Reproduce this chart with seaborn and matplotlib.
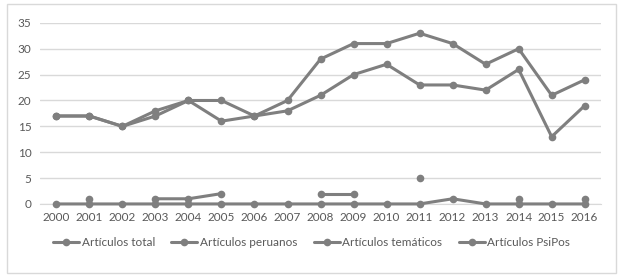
import numpy as np
import pandas as pd
import matplotlib.pyplot as plt
import seaborn as sns
from matplotlib.lines import Line2D
from matplotlib.patches import Rectangle

years = [str(y) for y in range(2000, 2017)]
total = [17, 17, 15, 18, 20, 20, 17, 20, 28, 31, 31, 33, 31, 27, 30, 21, 24]
peruanos = [17, 17, 15, 17, 20, 16, 17, 18, 21, 25, 27, 23, 23, 22, 26, 13, 19]
tematicos = [np.nan, 1, np.nan, 1, 1, 2, np.nan, np.nan, 2, 2, np.nan, 5, np.nan, np.nan, 1, np.nan, 1]
psipos = [0, 0, 0, 0, 0, 0, 0, 0, 0, 0, 0, 0, 1, 0, 0, 0, 0]

labels = ["Artículos total", "Artículos peruanos", "Artículos temáticos", "Artículos PsiPos"]
series = [total, peruanos, tematicos, psipos]

sns.set_style("white")
plt.rcParams['font.family'] = ['Lato', 'DejaVu Sans']

gray = "#7f7f7f"
fig = plt.figure(figsize=(6.23, 2.79), dpi=100)
ax = fig.add_axes([0.064, 0.269, 0.901, 0.649])

for name, vals in zip(labels, series):
    df = pd.DataFrame({"year": years, "x": range(len(years)), "v": vals})
    # split into segments so gaps stay gaps
    df["seg"] = df["v"].isna().cumsum()
    df = df.dropna(subset=["v"])
    sns.lineplot(data=df, x="x", y="v", units="seg", estimator=None, ax=ax,
                 color=gray, linewidth=2.2, marker="o", markersize=5.5,
                 markeredgewidth=0, legend=False, clip_on=False, zorder=3)

ax.set_xlim(-0.5, len(years) - 0.5)
ax.set_ylim(0, 35)
ax.set_yticks(range(0, 36, 5))
ax.set_xticks(range(len(years)))
ax.set_xticklabels(years)
ax.set_xlabel("")
ax.set_ylabel("")
ax.grid(axis="y", color="#d9d9d9", linewidth=1)
ax.set_axisbelow(True)
for s in ["top", "right", "left"]:
    ax.spines[s].set_visible(False)
ax.spines["bottom"].set_color("#d9d9d9")
ax.spines["bottom"].set_zorder(0)
ax.tick_params(axis="both", length=0, labelsize=8.5, colors="#595959", pad=6)

handles = [Line2D([], [], color=gray, linewidth=2.2, marker="o", markersize=5.5,
                  markeredgewidth=0) for _ in labels]
fig.legend(handles, labels, loc="center", bbox_to_anchor=(0.5, 0.13), ncol=4,
           frameon=False, fontsize=8.5, handlelength=2.2, columnspacing=1.4,
           handletextpad=0.2, labelcolor="#595959")

fig.patches.append(Rectangle((0.012, 0.02), 0.976, 0.965, transform=fig.transFigure,
                             fill=False, edgecolor="#d9d9d9", linewidth=1))

plt.savefig("out.png", dpi=100)
plt.close()
